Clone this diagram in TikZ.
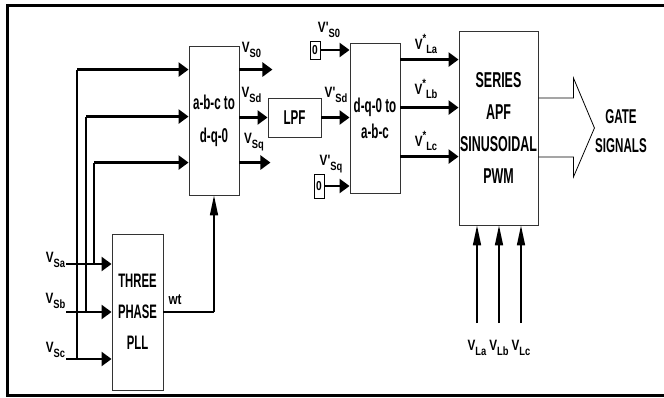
\documentclass[tikz,border=0pt]{standalone}
\usepackage{fontspec}
\setmainfont{Liberation Sans}[FakeStretch=0.58]
\newfontfamily\labelfont{Liberation Sans}[FakeStretch=0.78]
\usepackage{tikz}
\usetikzlibrary{arrows.meta, positioning, calc}
\newcommand{\subtxt}[1]{\raisebox{-0.32em}{\fontsize{12}{12}\selectfont #1}}
\newcommand{\suptxt}[1]{\raisebox{0.45em}{\fontsize{12}{12}\selectfont #1}}
\tikzset{
  block/.style={
    rectangle,
    draw=black!80, line width=0.9pt,
    fill=white,
    inner sep=0pt,
    align=center,
    font=\fontsize{20}{29}\selectfont\bfseries
  },
  zerobox/.style={
    rectangle,
    draw=black, line width=0.9pt,
    inner sep=0pt,
    minimum width=10pt,
    font=\labelfont\fontsize{13}{13}\selectfont\bfseries
  },
  sig/.style={
    inner sep=0pt,
    font=\labelfont\fontsize{15}{17}\selectfont\bfseries
  },
  arrow/.style={
    -{Triangle[length=10pt,width=14pt]},
    line width=2.8pt
  },
  tap/.style={
    line width=1.5pt
  },
  uparrow/.style={
    -{Triangle[length=20pt,width=8pt]},
    line width=1.6pt
  },
  frame/.style={
    line width=3pt
  }
}

\begin{document}
\begin{tikzpicture}[x=1pt, y=-1pt]

\useasboundingbox (0,0) rectangle (664,398);
\draw[frame] (7,6) rectangle (690,395);

% --- Blocks ---
\node[block, minimum width=50pt, minimum height=149pt, font=\fontsize{20}{33}\selectfont\bfseries] (abc) at (214,120.5) {a-b-c to\\d-q-0};
\node[block, minimum width=53pt, minimum height=39pt] (lpf) at (294.5,117.5) {LPF};
\node[block, minimum width=50pt, minimum height=150pt, font=\fontsize{20}{26}\selectfont\bfseries] (dqo) at (375,118) {d-q-0 to\\a-b-c};
\node[block, minimum width=79pt, minimum height=194pt, font=\fontsize{21.5}{32}\selectfont\bfseries] (apf) at (498.5,128) {SERIES\\APF\\SINUSOIDAL\\PWM};
\node[block, minimum width=51pt, minimum height=156pt, font=\fontsize{19.5}{31}\selectfont\bfseries] (pll) at (137.5,312) {THREE\\PHASE\\PLL};
\node[zerobox, minimum height=18pt] (zs0) at (315,50) {0};
\node[zerobox, minimum height=24pt] (zsq) at (319,186) {0};

% --- Labels ---
\node[sig] (vsa) at (55.5,260) {V\subtxt{Sa}};
\node[sig] (vsb) at (55.5,301) {V\subtxt{Sb}};
\node[sig] (vsc) at (55.5,350) {V\subtxt{Sc}};
\node[sig] (wt) at (175,300) {wt};
\node[sig] (vs0) at (251.5,50) {V\subtxt{S0}};
\node[sig] (vsd) at (251.5,95) {V\subtxt{Sd}};
\node[sig] (vsq) at (254,142) {V\subtxt{Sq}};
\node[sig] (vps0) at (329,30) {V'\subtxt{S0}};
\node[sig] (vpsd) at (336,95) {V'\subtxt{Sd}};
\node[sig] (vpsq) at (331,164) {V'\subtxt{Sq}};
\node[sig] (vsla) at (426,44) {V\suptxt{*}\subtxt{La}};
\node[sig] (vslb) at (426,89) {V\suptxt{*}\subtxt{Lb}};
\node[sig] (vslc) at (426,141) {V\suptxt{*}\subtxt{Lc}};
\node[font=\fontsize{20}{29}\selectfont\bfseries, align=center, inner sep=0pt] (gate) at (621,131) {GATE\\SIGNALS};

% --- PLL inputs ---
\coordinate (ina) at (66,264);
\coordinate (inb) at (66,312);
\coordinate (inc) at (66,359);
\draw[arrow] (ina) -- (ina -| pll.west);
\draw[arrow] (inb) -- (inb -| pll.west);
\draw[arrow] (inc) -- (inc -| pll.west);

% --- taps to abc block ---
\coordinate (tapa) at (94,264);
\coordinate (tapb) at (86,312);
\coordinate (tapc) at (77,359);
\coordinate (ia1) at ($(abc.north west)+(0,24)$);
\coordinate (ia2) at ($(abc.north west)+(0,71)$);
\coordinate (ia3) at ($(abc.north west)+(0,117)$);
\draw[tap] (tapc) -- (tapc |- ia1);
\draw[tap] (tapb) -- (tapb |- ia2);
\draw[tap] (tapa) -- (tapa |- ia3);
\draw[arrow] (tapc |- ia1) -- (ia1);
\draw[arrow] (tapb |- ia2) -- (ia2);
\draw[arrow] (tapa |- ia3) -- (ia3);

% --- wt ---
\draw[line width=2.8pt] (pll.east) -- (pll.east -| abc.south) coordinate (wtc);
\draw[uparrow] (wtc) -- (abc.south);

% --- abc outputs ---
\draw[arrow] (ia1 -| abc.east) -- ++(33,0) coordinate (os0);
\draw[arrow] (abc.east |- lpf.west) -- (lpf.west);
\draw[arrow] (ia3 -| abc.east) -- ++(31,0) coordinate (osq);

% --- dq0 inputs ---
\draw[arrow] (zs0.east) -- (zs0.east -| dqo.west);
\draw[arrow] (lpf.east) -- (lpf.east -| dqo.west);
\draw[arrow] (zsq.east) -- (zsq.east -| dqo.west);

% --- dq0 outputs ---
\coordinate (oa) at ($(dqo.north east)+(0,17)$);
\coordinate (ob) at ($(dqo.north east)+(0,65)$);
\coordinate (oc) at ($(dqo.north east)+(0,114)$);
\draw[arrow] (oa) -- (oa -| apf.west);
\draw[arrow] (ob) -- (ob -| apf.west);
\draw[arrow] (oc) -- (oc -| apf.west);

% --- load voltages ---
\coordinate (la) at (477,323);
\coordinate (lb) at (499,323);
\coordinate (lc) at (521,323);
\draw[uparrow] (la) -- (la |- apf.south);
\draw[uparrow] (lb) -- (lb |- apf.south);
\draw[uparrow] (lc) -- (lc |- apf.south);
\node[sig, below=17pt of la] (vla) {V\subtxt{La}};
\node[sig, below=17pt of lb] (vlb) {V\subtxt{Lb}};
\node[sig, below=17pt of lc] (vlc) {V\subtxt{Lc}};

% --- gate signal arrow ---
\draw[line width=0.8pt] ($(apf.east)+(0,-30)$) -- ++(35,0) -- ++(0,-20)
  -- ($(apf.east)+(56,0)$) -- ($(apf.east)+(35,49)$) -- ++(0,-20)
  -- ($(apf.east)+(0,29)$);

\end{tikzpicture}
\end{document}
